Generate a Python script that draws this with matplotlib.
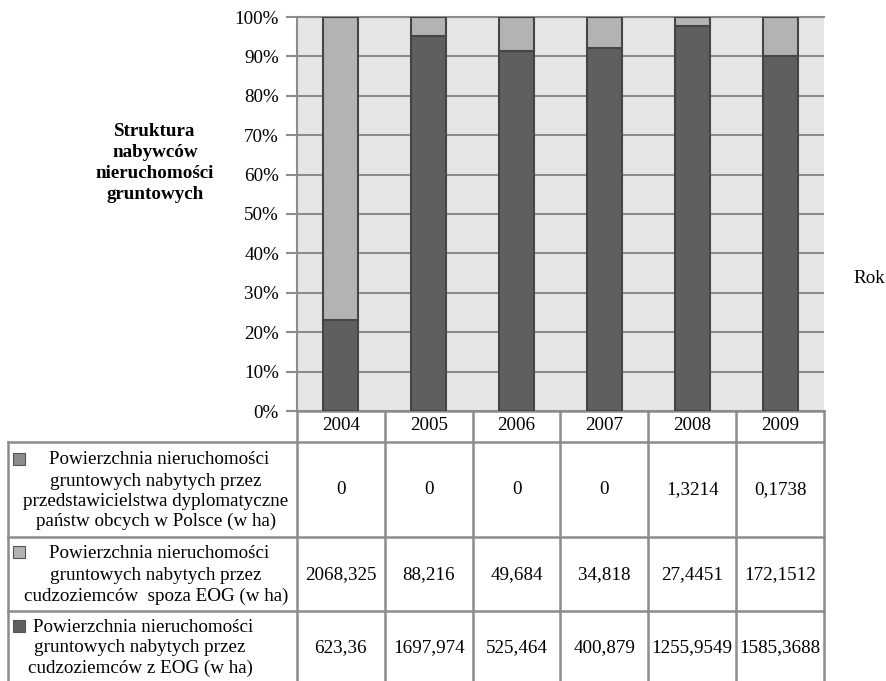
import matplotlib.pyplot as plt
import numpy as np

plt.rcParams['font.family'] = ['Liberation Serif', 'DejaVu Serif']

years = ['2004', '2005', '2006', '2007', '2008', '2009']
eog = [623.36, 1697.974, 525.464, 400.879, 1255.9549, 1585.3688]
spoza_eog = [2068.325, 88.216, 49.684, 34.818, 27.4451, 172.1512]
dyplomatyczne = [0, 0, 0, 0, 1.3214, 0.1738]

eog_txt = ['623,36', '1697,974', '525,464', '400,879', '1255,9549', '1585,3688']
spoza_txt = ['2068,325', '88,216', '49,684', '34,818', '27,4451', '172,1512']
dypl_txt = ['0', '0', '0', '0', '1,3214', '0,1738']

row_labels = [
    ['Powierzchnia nieruchomości', 'gruntowych nabytych przez',
     'przedstawicielstwa dyplomatyczne', 'państw obcych w Polsce (w ha)'],
    ['Powierzchnia nieruchomości', 'gruntowych nabytych przez',
     'cudzoziemców  spoza EOG (w ha)'],
    ['Powierzchnia nieruchomości', 'gruntowych nabytych przez',
     'cudzoziemców z EOG (w ha)'],
]

c_eog = '#5f5f5f'
c_spoza = '#b3b3b3'
c_dypl = '#8c8c8c'
grid_c = '#8c8c8c'
FS = 13.7

W, H = 887, 681
fig = plt.figure(figsize=(W / 100, H / 100), dpi=100)

# plot area in pixels
x0, x1, ytop, ybot = 297, 824, 17, 411
ax = fig.add_axes([x0 / W, (H - ybot) / H, (x1 - x0) / W, (ybot - ytop) / H])
ax.set_facecolor('#e6e6e6')

tot = np.array(eog) + np.array(spoza_eog) + np.array(dyplomatyczne)
p_eog = np.array(eog) / tot * 100
p_spoza = np.array(spoza_eog) / tot * 100
p_dypl = np.array(dyplomatyczne) / tot * 100

x = np.arange(len(years))
kw = dict(width=0.4, edgecolor='#454545', linewidth=1.5, zorder=3)
ax.bar(x, p_eog, color=c_eog, **kw)
ax.bar(x, p_spoza, bottom=p_eog, color=c_spoza, **kw)
ax.bar(x, p_dypl, bottom=p_eog + p_spoza, color=c_dypl, **kw)

ax.set_xlim(-0.5, len(years) - 0.5)
ax.set_ylim(0, 100)
ax.set_yticks(np.arange(0, 101, 10))
ax.set_yticklabels([f'{v}%' for v in range(0, 101, 10)], fontsize=FS)
ax.set_xticks([])
ax.yaxis.grid(True, color=grid_c, linewidth=1.5, zorder=1)
ax.set_axisbelow(True)
ax.tick_params(axis='y', length=8, width=1.5, color=grid_c, pad=5)
for s in ['right', 'bottom']:
    ax.spines[s].set_visible(False)
ax.spines['top'].set_color(grid_c)
ax.spines['top'].set_linewidth(1.5)
ax.spines['left'].set_color(grid_c)
ax.spines['left'].set_linewidth(1.5)

fig.text(155 / W, 1 - 163 / H, 'Struktura\nnabywców\nnieruchomości\ngruntowych',
         ha='center', va='center', fontsize=FS, fontweight='bold',
         linespacing=1.3)
fig.text(869 / W, 1 - 278 / H, 'Rok', ha='center', va='center', fontsize=FS)

# data table under the chart, drawn in pixel coordinates
tab = fig.add_axes([0, 0, 1, 1], zorder=-1)
tab.set_xlim(0, W)
tab.set_ylim(H, 0)
tab.axis('off')

col_w = (x1 - x0) / len(years)
edges = [x0 + i * col_w for i in range(len(years) + 1)]
row_edges = [411, 442, 537, 611, 690]
lkw = dict(color=grid_c, linewidth=1.8, solid_capstyle='projecting')

# header row
tab.plot([x0, x1], [row_edges[0], row_edges[0]], **lkw)
for e in edges:
    tab.plot([e, e], [row_edges[0], row_edges[-1]], **lkw)
for i, yv in enumerate(years):
    tab.text((edges[i] + edges[i + 1]) / 2, 426, yv, ha='center', va='center',
             fontsize=FS)

left = 8
for r in row_edges[1:-1]:
    tab.plot([left, x1], [r, r], **lkw)
tab.plot([left, left], [row_edges[1], row_edges[-1]], **lkw)

row_vals = [dypl_txt, spoza_txt, eog_txt]
row_cols = [c_dypl, c_spoza, c_eog]
line_y = [[460, 481, 501, 521], [553, 575, 596], [627, 648, 668]]
val_y = [490, 575, 648]
centers = [156, 156, 140]
first_shift = [3, 3, 3]
for k in range(3):
    for j, txt in enumerate(row_labels[k]):
        cx = centers[k] + (first_shift[k] if j == 0 else 0)
        tab.text(cx, line_y[k][j], txt, ha='center', va='center', fontsize=FS)
    tab.scatter([19], [line_y[k][0] - 1], marker='s', s=70, color=row_cols[k],
                edgecolor='#555555', linewidth=0.8)
    for i, v in enumerate(row_vals[k]):
        tab.text((edges[i] + edges[i + 1]) / 2, val_y[k], v, ha='center',
                 va='center', fontsize=FS)

fig.savefig('out.png', dpi=100)
